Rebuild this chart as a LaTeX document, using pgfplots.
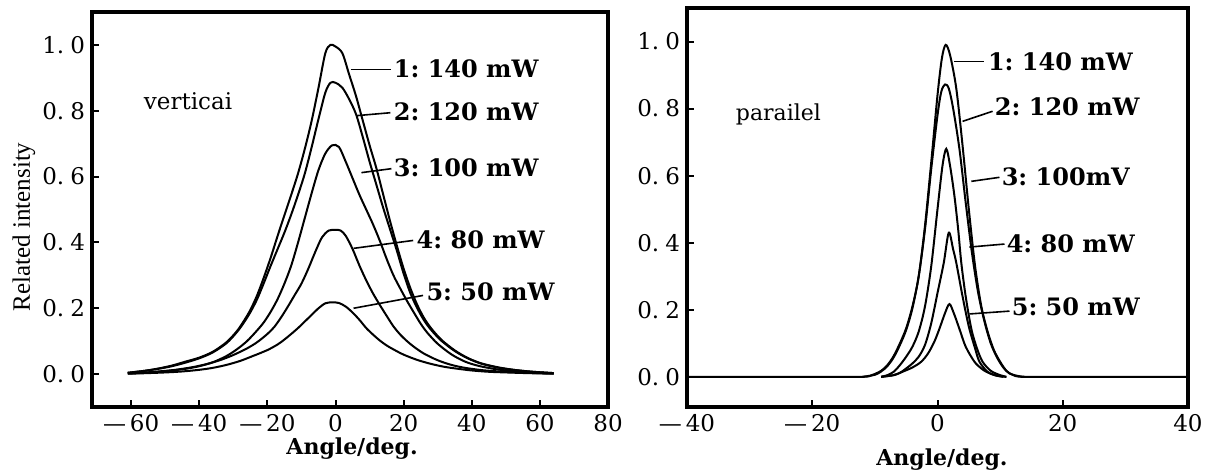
\documentclass[border=0pt]{standalone}
\usepackage{fontspec}
\setmainfont{DejaVu Serif}
\newfontfamily\libserif{Liberation Serif}
\usepackage{pgfplots}
\pgfplotsset{compat=1.18}
\pgfplotsset{
  myax/.style={
    scale only axis,
    axis line style={line width=2.4pt},
    tick align=inside,
    xtick pos=left, ytick pos=left,
    major tick length=3.5pt,
    every tick/.style={line width=1pt, black},
    ytick={0,0.2,0.4,0.6,0.8,1.0},
    yticklabels={0.\hspace{3pt}0,0.\hspace{3pt}2,0.\hspace{3pt}4,0.\hspace{3pt}6,0.\hspace{3pt}8,1.\hspace{3pt}0},
    tick label style={font=\fontsize{11.5}{12}\selectfont},
    xlabel style={font=\fontsize{11}{11}\bfseries\selectfont, anchor=center},
    cycle list={black,mark=none,line width=1pt,smooth,tension=0.5\\},
  },
}
\tikzset{
  lab/.style={anchor=west, font=\fontsize{12}{12}\bfseries\selectfont, inner sep=0pt},
  lead/.style={line width=0.8pt},
}
\begin{document}
\begin{tikzpicture}
\useasboundingbox (0,0) rectangle (606.5pt,236pt);
% ---------------- left panel ----------------
\begin{axis}[myax,
  at={(46pt,32.5pt)}, anchor=south west,
  width=258pt, height=197.5pt,
  xmin=-71.5, xmax=80, ymin=-0.1, ymax=1.1,
  xtick={-60,-40,-20,0,20,40,60,80},
  xticklabels={—\,60,—\,40,—\,20,0,20,40,60,80},
  xlabel={Angle/deg.},
  xlabel style={at={(rel axis cs:0.504,-0.104)}},
  ylabel={Related intensity},
  ylabel style={at={(rel axis cs:-0.132,0.456)}, anchor=center, font=\libserif\fontsize{12.5}{13}\selectfont},
]
% curve 1: 140 mW
\addplot coordinates {(-61,0.004) (-56,0.01) (-52,0.017) (-48,0.026) (-44,0.038) (-40,0.05) (-36,0.068) (-32,0.097) (-29,0.13) (-27,0.16) (-25,0.195) (-23,0.24) (-21,0.295) (-19,0.355) (-17,0.42) (-15,0.483) (-13,0.545) (-11,0.61) (-9,0.685) (-7,0.77) (-5,0.87) (-3,0.975) (-1.5,1.0) (0,0.995) (2,0.975) (4,0.91) (6,0.845) (8,0.77) (10,0.695) (12,0.625) (14,0.545) (16,0.465) (18,0.39) (20,0.32) (22,0.26) (24,0.21) (26,0.17) (28,0.14) (31,0.105) (35,0.072) (39,0.048) (43,0.032) (48,0.02) (53,0.012) (58,0.007) (64,0.003)};
% curve 2: 120 mW
\addplot coordinates {(-61,0.004) (-56,0.01) (-52,0.016) (-48,0.024) (-44,0.035) (-40,0.048) (-36,0.066) (-32,0.094) (-29,0.127) (-27,0.155) (-25,0.188) (-23,0.228) (-21,0.278) (-19,0.33) (-17,0.38) (-15,0.43) (-13,0.485) (-11,0.545) (-9,0.61) (-7,0.69) (-5,0.775) (-3,0.855) (-1.5,0.885) (0,0.885) (2,0.87) (4,0.835) (6,0.79) (8,0.72) (10,0.645) (12,0.575) (14,0.505) (16,0.44) (18,0.375) (20,0.305) (22,0.245) (24,0.2) (26,0.163) (28,0.135) (31,0.102) (35,0.07) (39,0.047) (43,0.031) (48,0.019) (53,0.012) (58,0.007) (64,0.003)};
% curve 3: 100 mW
\addplot coordinates {(-61,0.002) (-56,0.004) (-52,0.007) (-48,0.011) (-44,0.016) (-40,0.024) (-36,0.036) (-32,0.055) (-29,0.075) (-26,0.1) (-23,0.133) (-21,0.158) (-19,0.19) (-17,0.228) (-15,0.275) (-13,0.33) (-11,0.4) (-9,0.475) (-7,0.55) (-5,0.62) (-3,0.67) (-1,0.695) (1,0.69) (3,0.645) (5,0.595) (7,0.545) (9,0.5) (11,0.455) (13,0.405) (15,0.35) (17,0.3) (19,0.26) (21,0.222) (23,0.187) (25,0.153) (27,0.125) (30,0.092) (34,0.06) (38,0.038) (42,0.025) (47,0.015) (52,0.009) (58,0.005) (64,0.002)};
% curve 4: 80 mW
\addplot coordinates {(-61,0.002) (-57,0.004) (-52,0.008) (-47,0.013) (-42,0.021) (-38,0.03) (-34,0.042) (-30,0.058) (-26,0.078) (-23,0.097) (-20,0.122) (-18,0.143) (-16,0.172) (-14,0.205) (-12,0.24) (-10,0.275) (-8,0.32) (-6,0.37) (-4,0.415) (-2,0.436) (0,0.438) (1.5,0.436) (3,0.42) (5,0.38) (7,0.33) (9,0.285) (11,0.245) (13,0.21) (15,0.177) (17,0.145) (19,0.12) (21,0.1) (23,0.083) (26,0.062) (30,0.042) (34,0.028) (38,0.019) (43,0.012) (48,0.008) (54,0.005) (60,0.003) (64,0.002)};
% curve 5: 50 mW
\addplot coordinates {(-61,0.001) (-55,0.003) (-50,0.005) (-45,0.008) (-40,0.013) (-36,0.019) (-32,0.028) (-28,0.04) (-24,0.056) (-20,0.073) (-17,0.09) (-15,0.105) (-13,0.122) (-11,0.14) (-9,0.16) (-7,0.18) (-5,0.2) (-3,0.215) (-1,0.218) (1,0.216) (3,0.205) (5,0.187) (7,0.165) (9,0.14) (11,0.12) (13,0.102) (15,0.087) (17,0.075) (20,0.059) (24,0.043) (28,0.031) (32,0.022) (36,0.016) (40,0.011) (45,0.007) (50,0.005) (56,0.003) (64,0.001)};
\node[font=\fontsize{11.5}{12}\selectfont] at (axis cs:-43.3,0.83) {verticai};
\draw[lead] (axis cs:4.5,0.925) -- (axis cs:16.2,0.925);
\node[lab] at (axis cs:17,0.927) {1:\ 140 mW};
\draw[lead] (axis cs:6.1,0.785) -- (axis cs:16.1,0.794);
\node[lab] at (axis cs:17,0.796) {2:\ 120 mW};
\draw[lead] (axis cs:7.6,0.612) -- (axis cs:16.4,0.624);
\node[lab] at (axis cs:17,0.627) {3:\ 100 mW};
\draw[lead] (axis cs:5.3,0.382) -- (axis cs:22.8,0.406);
\node[lab] at (axis cs:23.7,0.409) {4:\ 80 mW};
\draw[lead] (axis cs:5.3,0.2) -- (axis cs:25.7,0.239);
\node[lab] at (axis cs:26.6,0.25) {5:\ 50 mW};
\end{axis}
% ---------------- right panel ----------------
\begin{axis}[myax,
  at={(343.5pt,32.5pt)}, anchor=south west,
  width=250.5pt, height=199.5pt,
  xmin=-40, xmax=40, ymin=-0.09, ymax=1.1,
  xtick={-40,-20,0,20,40},
  xticklabels={—\,40,—\,20,0,20,40},
  xlabel={Angle/deg.},
  xlabel style={at={(rel axis cs:0.509,-0.133)}},
]
% curve 1: 140 mW
\addplot coordinates {(-40,0) (-30,0) (-20,0) (-12,0) (-10.5,0.005) (-9,0.018) (-8,0.035) (-7,0.062) (-6,0.1) (-5,0.145) (-4,0.21) (-3,0.3) (-2,0.45) (-1,0.64) (0,0.84) (0.7,0.95) (1.3,0.99) (2,0.96) (3,0.86) (4,0.69) (5,0.5) (6,0.33) (7,0.21) (8,0.135) (9,0.08) (10,0.045) (11,0.018) (12,0.006) (13.5,0) (20,0) (30,0) (40,0)};
% curve 2: 120 mW
\addplot coordinates {(-12,0) (-10,0.006) (-9,0.016) (-8,0.032) (-7,0.058) (-6,0.095) (-5,0.14) (-4,0.205) (-3,0.3) (-2,0.44) (-1,0.62) (0,0.78) (0.6,0.85) (1.2,0.872) (1.8,0.86) (2.5,0.8) (3.5,0.68) (4.5,0.52) (5.5,0.37) (6.5,0.25) (7.5,0.165) (8.5,0.1) (9.5,0.058) (10.5,0.028) (11.5,0.01) (13,0.002) (14,0)};
% curve 3: 100 mW
\addplot coordinates {(-9,0) (-8,0.005) (-7,0.015) (-6,0.035) (-5,0.06) (-4,0.09) (-3,0.135) (-2,0.21) (-1,0.33) (0,0.5) (0.8,0.63) (1.4,0.68) (2,0.63) (2.7,0.54) (3.3,0.44) (3.8,0.34) (4.5,0.24) (5.4,0.143) (6.3,0.085) (7.2,0.045) (8.5,0.018) (10,0.005) (11,0)};
% curve 4: 80 mW
\addplot coordinates {(-9,0) (-7,0.005) (-6,0.012) (-5,0.025) (-4,0.04) (-3,0.06) (-2,0.095) (-1,0.16) (0,0.25) (1,0.34) (1.8,0.43) (2.5,0.38) (3,0.34) (4,0.24) (5,0.15) (6,0.085) (6.7,0.045) (8,0.015) (9.5,0.003) (11,0)};
% curve 5: 50 mW
\addplot coordinates {(-9,0) (-7,0.005) (-5.6,0.015) (-4,0.028) (-2.6,0.045) (-1.5,0.07) (-0.5,0.105) (0.3,0.143) (1.2,0.19) (1.9,0.217) (2.6,0.19) (3.5,0.143) (4.5,0.09) (5.9,0.045) (7,0.025) (7.8,0.015) (9,0.006) (10.5,0)};
\node[font=\fontsize{11}{12}\selectfont] at (axis cs:-25.4,0.783) {parailel};
\draw[lead] (axis cs:2.7,0.94) -- (axis cs:7.5,0.94);
\node[lab] at (axis cs:8.0,0.94) {1:\ 140 mW};
\draw[lead] (axis cs:4.0,0.762) -- (axis cs:8.8,0.792);
\node[lab] at (axis cs:9.1,0.804) {2:\ 120 mW};
\draw[lead] (axis cs:5.4,0.583) -- (axis cs:9.9,0.595);
\node[lab] at (axis cs:10.2,0.598) {3:\ 100mV};
\draw[lead] (axis cs:5.1,0.387) -- (axis cs:10.7,0.396);
\node[lab] at (axis cs:11.0,0.396) {4:\ 80 mW};
\draw[lead] (axis cs:5.1,0.1875) -- (axis cs:11.5,0.196);
\node[lab] at (axis cs:11.8,0.208) {5:\ 50 mW};
\end{axis}
\end{tikzpicture}
\end{document}
